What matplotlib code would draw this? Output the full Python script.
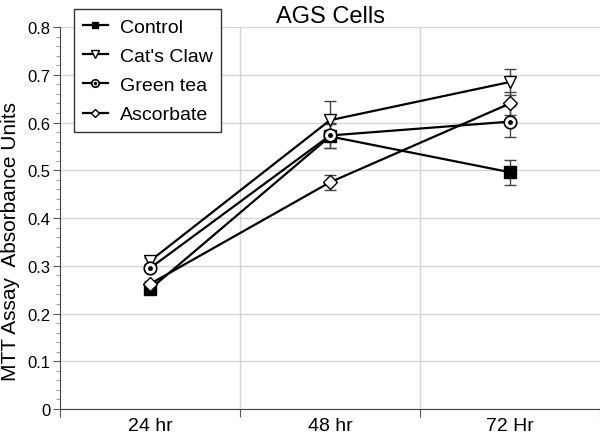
import matplotlib
matplotlib.use("Agg")
import matplotlib.pyplot as plt
from matplotlib.ticker import MultipleLocator
from matplotlib.legend_handler import HandlerTuple

plt.rcParams['font.family'] = ['Liberation Sans', 'DejaVu Sans']

categories = ["24 hr", "48 hr", "72 Hr"]
control = [0.251, 0.571, 0.496]
cats_claw = [0.310, 0.605, 0.685]
green_tea = [0.295, 0.573, 0.602]
ascorbate = [0.262, 0.475, 0.640]

control_err = [0.006, 0.025, 0.026]
cats_claw_err = [0.006, 0.040, 0.027]
green_tea_err = [0.006, 0.026, 0.033]
ascorbate_err = [0.006, 0.016, 0.024]

fig = plt.figure(figsize=(6.0, 4.39), dpi=100)
ax = fig.add_axes([0.1, 0.066, 0.9, 0.87])

x = list(range(len(categories)))

ax.set_axisbelow(True)
ax.grid(True, axis='y', which='major', color='#d4d4d4', lw=1.0, zorder=0)
for b in [0.5, 1.5]:
    ax.axvline(b, color='#d4d4d4', lw=1.0, zorder=0.5)

err_kw = dict(fmt='none', ecolor='#444444', elinewidth=1.0, capsize=4, capthick=1.0, zorder=2)
ax.errorbar(x, control, yerr=control_err, **err_kw)
ax.errorbar(x, cats_claw, yerr=cats_claw_err, **err_kw)
ax.errorbar(x, green_tea, yerr=green_tea_err, **err_kw)
ax.errorbar(x, ascorbate, yerr=ascorbate_err, **err_kw)

l1, = ax.plot(x, control, color='black', lw=1.6, marker='s', ms=8, mfc='black', mec='black', zorder=3)
l2, = ax.plot(x, cats_claw, color='black', lw=1.6, marker='v', ms=9, mfc='white', mec='black', mew=1.0, zorder=3)
l3, = ax.plot(x, green_tea, color='black', lw=1.6, marker='o', ms=9, mfc='white', mec='black', mew=1.2, zorder=4)
l3d, = ax.plot(x, green_tea, linestyle='none', marker='o', ms=2.5, mfc='black', mec='black', zorder=5)
l4, = ax.plot(x, ascorbate, color='black', lw=1.6, marker='D', ms=7, mfc='white', mec='black', mew=1.0, zorder=3)

ax.set_xlim(-0.5, 2.5)
ax.set_ylim(0, 0.8)
ax.set_xticks([-0.5, 0.5, 1.5, 2.5])
ax.set_xticklabels([])
ax.set_xticks(x, minor=True)
ax.set_xticklabels(categories, minor=True, fontsize=14)
ax.tick_params(axis='x', which='minor', length=0, pad=6)
ax.tick_params(axis='x', which='major', length=6, direction='out', color='#555555')
ax.set_yticks([0, 0.1, 0.2, 0.3, 0.4, 0.5, 0.6, 0.7, 0.8])
ax.set_yticklabels(['0', '0.1', '0.2', '0.3', '0.4', '0.5', '0.6', '0.7', '0.8'], fontsize=12)
ax.yaxis.set_minor_locator(MultipleLocator(0.02))
ax.tick_params(axis='y', which='major', length=5, color='#555555', pad=2)
ax.tick_params(axis='y', which='minor', length=3, color='#888888')

for s in ['top', 'right']:
    ax.spines[s].set_visible(False)
ax.spines['left'].set_color('#444444')
ax.spines['bottom'].set_color('#444444')

ax.set_ylabel("MTT Assay  Absorbance Units", fontsize=15)
ax.yaxis.set_label_coords(-0.074, 0.44)
ax.set_title("AGS Cells", fontsize=17, pad=4)

leg = ax.legend([l1, l2, (l3, l3d), l4], ["Control", "Cat's Claw", "Green tea", "Ascorbate"],
                handler_map={tuple: HandlerTuple(ndivide=1, pad=0)},
                loc='upper left', bbox_to_anchor=(0.026, 1.047), borderaxespad=0, fontsize=14,
                frameon=True, fancybox=False, edgecolor='#333333', framealpha=1,
                handlelength=1.3, handletextpad=0.6, borderpad=0.45, labelspacing=0.6,
                markerscale=0.6)
leg.get_frame().set_linewidth(1.0)

fig.savefig("out.png", dpi=100)
